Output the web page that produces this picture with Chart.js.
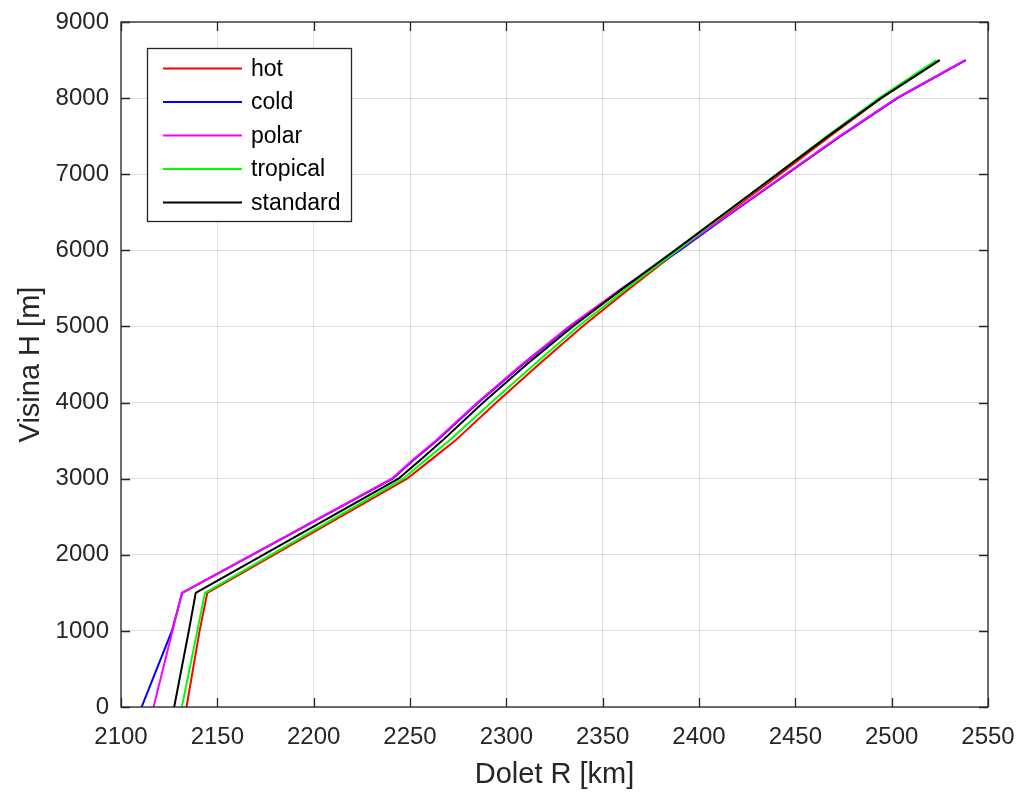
<!DOCTYPE html>
<html>
<head>
<meta charset="utf-8">
<script src="https://cdn.jsdelivr.net/npm/chart.js@4.4.1/dist/chart.umd.min.js"></script>
<style>
html,body{margin:0;padding:0;background:#fff;}
canvas{display:block;}
</style>
</head>
<body>
<canvas id="c" width="1020" height="794"></canvas>
<script>
// Heights (m) shared by all profiles
const heights = [0, 1000, 1500, 3000, 3250, 3500, 4000, 4500, 5000, 5500, 6000, 6500, 7000, 7500, 8000, 8500];
// Range (km) for each atmosphere model
const hot      = [2134.0, 2140.8, 2144.8, 2248.5, 2261.0, 2273.5, 2294.8, 2316.8, 2339.5, 2364.0, 2389.5, 2415.5, 2442.0, 2468.0, 2494.5, 2524.5];
const cold     = [2110.7, 2126.4, 2131.8, 2241.0, 2252.0, 2264.0, 2285.5, 2308.5, 2333.0, 2360.5, 2390.0, 2417.5, 2445.5, 2473.5, 2503.0, 2538.5];
const polar    = [2116.9, 2126.7, 2131.6, 2240.5, 2251.5, 2263.5, 2285.0, 2308.0, 2332.5, 2360.0, 2389.0, 2417.0, 2445.0, 2473.0, 2502.5, 2538.0];
const tropical = [2131.6, 2139.6, 2143.6, 2246.5, 2258.3, 2270.4, 2292.2, 2314.5, 2337.3, 2362.5, 2388.8, 2414.5, 2440.3, 2466.5, 2493.5, 2523.2];
const standard = [2127.6, 2135.2, 2138.8, 2244.0, 2255.5, 2266.8, 2288.0, 2310.5, 2334.5, 2360.5, 2387.5, 2414.0, 2440.5, 2467.0, 2494.5, 2525.0];

const seriesNames = ['hot', 'cold', 'polar', 'tropical', 'standard'];
const seriesData = [hot, cold, polar, tropical, standard];
const seriesColors = ['#ff0000', '#0000ff', '#ff00ff', '#00ff00', '#000000'];

const xTicks = [2100, 2150, 2200, 2250, 2300, 2350, 2400, 2450, 2500, 2550];
const yTicks = [0, 1000, 2000, 3000, 4000, 5000, 6000, 7000, 8000, 9000];

const xLabel = 'Dolet R [km]';
const yLabel = 'Visina H [m]';

const FONT = "'Liberation Sans', Arial, Helvetica, sans-serif";
const AXC = '#262626';

const datasets = seriesNames.map((name, i) => ({
  label: name,
  data: heights.map((h, k) => ({x: seriesData[i][k], y: h})),
  borderColor: seriesColors[i],
  backgroundColor: seriesColors[i],
  borderWidth: 2,
  pointRadius: 0,
  showLine: true,
  tension: 0,
  order: seriesNames.length - i
}));

const boxPlugin = {
  id: 'matlabBox',
  afterDraw(chart) {
    const ctx = chart.ctx;
    const a = chart.chartArea;
    const xs = chart.scales.x, ys = chart.scales.y;
    ctx.save();
    ctx.strokeStyle = AXC;
    ctx.lineWidth = 1.3;
    ctx.strokeRect(a.left, a.top, a.right - a.left, a.bottom - a.top);
    const tl = 9;
    ctx.beginPath();
    xTicks.forEach(v => {
      const p = Math.round(xs.getPixelForValue(v)) + 0.5;
      ctx.moveTo(p, a.bottom); ctx.lineTo(p, a.bottom - tl);
      ctx.moveTo(p, a.top); ctx.lineTo(p, a.top + tl);
    });
    yTicks.forEach(v => {
      const p = Math.round(ys.getPixelForValue(v)) + 0.5;
      ctx.moveTo(a.left, p); ctx.lineTo(a.left + tl, p);
      ctx.moveTo(a.right, p); ctx.lineTo(a.right - tl, p);
    });
    ctx.stroke();

    // legend
    const lx = 147.5, ly = 48.5, lw = 204, lh = 173;
    ctx.fillStyle = '#ffffff';
    ctx.fillRect(lx, ly, lw, lh);
    ctx.lineWidth = 1.3;
    ctx.strokeStyle = AXC;
    ctx.strokeRect(lx, ly, lw, lh);
    const rowY0 = 68.5, rowStep = 33.5;
    ctx.font = '23px ' + FONT;
    ctx.textBaseline = 'middle';
    ctx.textAlign = 'left';
    seriesNames.forEach((name, i) => {
      const y = rowY0 + i * rowStep;
      ctx.strokeStyle = seriesColors[i];
      ctx.lineWidth = 2;
      ctx.beginPath();
      ctx.moveTo(163, y); ctx.lineTo(242, y);
      ctx.stroke();
      ctx.fillStyle = '#000000';
      ctx.fillText(name, 251, y + 1);
    });
    ctx.restore();
  }
};

new Chart(document.getElementById('c'), {
  type: 'scatter',
  data: { datasets },
  options: {
    responsive: false,
    devicePixelRatio: 1,
    animation: false,
    events: [],
    layout: { padding: { left: 0, top: 22, right: 32, bottom: 0 } },
    plugins: { legend: { display: false }, tooltip: { enabled: false } },
    scales: {
      x: {
        type: 'linear',
        min: 2100, max: 2550,
        afterBuildTicks: s => { s.ticks = xTicks.map(v => ({value: v})); },
        afterFit: s => { s.height = 87; s.paddingLeft = 0; s.paddingRight = 0; },
        grid: { color: 'rgba(38,38,38,0.15)', lineWidth: 1, drawTicks: false },
        border: { display: false },
        ticks: { color: AXC, font: { family: FONT, size: 24 }, padding: 16, maxRotation: 0, autoSkip: false, callback: v => String(v) },
        title: { display: true, text: xLabel, color: AXC, font: { family: FONT, size: 29, lineHeight: 1 }, padding: { top: 0, bottom: 5 } }
      },
      y: {
        type: 'linear',
        min: 0, max: 9000,
        afterBuildTicks: s => { s.ticks = yTicks.map(v => ({value: v})); },
        afterFit: s => { s.width = 121; s.paddingTop = 0; s.paddingBottom = 0; },
        grid: { color: 'rgba(38,38,38,0.15)', lineWidth: 1, drawTicks: false },
        border: { display: false },
        ticks: { color: AXC, font: { family: FONT, size: 24 }, padding: 12, autoSkip: false, callback: v => String(v) },
        title: { display: true, text: yLabel, color: AXC, font: { family: FONT, size: 29, lineHeight: 1 }, padding: { top: 16, bottom: 0 } }
      }
    }
  },
  plugins: [boxPlugin]
});
</script>
</body>
</html>
